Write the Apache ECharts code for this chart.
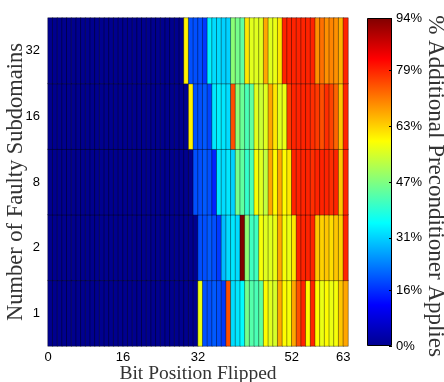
<!DOCTYPE html>
<html><head><meta charset="utf-8">
<script src="https://cdn.jsdelivr.net/npm/echarts@6/dist/echarts.min.js"></script>
<style>html,body{margin:0;padding:0;background:#fff}#c{width:444px;height:382px}</style>
</head><body><div id="c"></div>
<script>
// Categories
var bitPositions = ['0','1','2','3','4','5','6','7','8','9','10','11','12','13','14','15','16','17','18','19','20','21','22','23','24','25','26','27','28','29','30','31','32','33','34','35','36','37','38','39','40','41','42','43','44','45','46','47','48','49','50','51','52','53','54','55','56','57','58','59','60','61','62','63'];
var subdomains = ['1','2','8','16','32'];
// Tick labels
var xTicks = [0,16,32,52,63];
var cbTicks = [0,16,31,47,63,79,94];
var cbMax = 94;
// Series values (% additional preconditioner applies), bit 0..63
var row1 = [0,0,0,0,0,0,0,0,0,0, 0,0,0,0,0,0,0,0,0,0, 0,0,0,0,0,0,0,0,0,0, 0,0,
  57,19,19,20,19,17,75,32,33,35,46,43,42,44,59,56,55,67,59,58,67,75,79,59,79,59,57,59,57,58,64,67];
var row2 = [0,0,0,0,0,0,0,0,0,0, 0,0,0,0,0,0,0,0,0,0, 0,0,0,0,0,0,0,0,0,0, 0,0,
  19,19,20,19,17,29,32,33,32,94,48,41,41,58,56,56,57,67,58,57,61,79,79,79,79,64,63,64,62,64,63,79];
var row8 = [0,0,0,0,0,0,0,0,0,0, 0,0,0,0,0,0,0,0,0,0, 0,0,0,0,0,0,0,0,0,0, 0,
  19,19,20,19,15,33,32,33,31,46,44,40,42,58,56,53,67,59,67,59,61,79,79,79,79,78,79,79,79,78,79,64,79];
var row16 = [0,0,0,0,0,0,0,0,0,0, 0,0,0,0,0,0,0,0,0,0, 0,0,0,0,0,0,0,0,0,0,
  60,19,19,20,18,33,34,33,32,75,48,45,42,44,56,54,56,67,61,56,57,77,79,79,79,79,78,77,75,78,76,73,64,79];
var row32 = [0,0,0,0,0,0,0,0,0,0, 0,0,0,0,0,0,0,0,0,0, 0,0,0,0,0,0,0,0,0,
  60,19,19,19,17,34,32,32,31,31,48,46,44,61,56,56,56,67,56,57,61,79,79,79,79,79,79,79,69,72,69,70,69,66,79];

var rows = [row1,row2,row8,row16,row32];
var heat = [];
rows.forEach(function(r, yi){ r.forEach(function(v, xi){ heat.push([xi, yi, v]); }); });

var jet = ['#00008f','#0000ff','#0080ff','#00ffff','#80ff80','#ffff00','#ff8000','#ff0000','#800000'];
var stops = jet.map(function(c,i){ return {offset: i/(jet.length-1), color: c}; });

var serif = 'Liberation Serif';
var sans = 'Liberation Sans';
var chart = echarts.init(document.getElementById('c'));
chart.setOption({
  animation: false,
  grid: [
    {left: 48, top: 18, width: 300, height: 328, outerBoundsMode: 'none', containLabel: false},
    {left: 367, top: 18, width: 25, height: 328, outerBoundsMode: 'none', containLabel: false}
  ],
  xAxis: [
    {type: 'category', data: bitPositions, gridIndex: 0, axisLabel: {show: false}, axisTick: {show: false}, axisLine: {show: false}, splitLine: {show: false}},
    {type: 'value', gridIndex: 0, min: 0, max: 64, position: 'bottom',
     axisLine: {show: false}, axisTick: {show: false}, splitLine: {show: false},
     axisLabel: {customValues: xTicks, fontFamily: sans, fontSize: 13, color: '#000', margin: 5},
     name: 'Bit Position Flipped', nameLocation: 'middle', nameGap: 18, nameMoveOverlap: false,
     nameTextStyle: {fontFamily: serif, fontSize: 19.5, color: '#333'}},
    {type: 'category', data: ['cb'], gridIndex: 1, show: false}
  ],
  yAxis: [
    {type: 'category', data: subdomains, gridIndex: 0, axisTick: {show: false}, axisLine: {show: false}, splitLine: {show: false},
     axisLabel: {fontFamily: sans, fontSize: 13, color: '#000', margin: 8},
     name: 'Number of Faulty Subdomains', nameLocation: 'middle', nameGap: 20, nameMoveOverlap: false,
     nameTextStyle: {fontFamily: serif, fontSize: 22.5, color: '#333'}},
    {type: 'value', gridIndex: 1, min: 0, max: cbMax, position: 'right', z: 10,
     axisLine: {show: false}, splitLine: {show: false},
     axisTick: {show: true, inside: true, length: 3, customValues: cbTicks, lineStyle: {color: '#000'}},
     axisLabel: {customValues: cbTicks, formatter: '{value}%', fontFamily: sans, fontSize: 13, color: '#000', margin: 4},
     name: '% Additional Preconditioner Applies', nameLocation: 'middle', nameRotate: -90, nameGap: 32, nameMoveOverlap: false,
     nameTextStyle: {fontFamily: serif, fontSize: 23, color: '#333', padding: [0, 0, 0, 8]}}
  ],
  visualMap: {type: 'continuous', min: 0, max: cbMax, show: false, seriesIndex: 0, inRange: {color: jet}},
  series: [
    {type: 'heatmap', xAxisIndex: 0, yAxisIndex: 0, data: heat,
     itemStyle: {borderColor: 'rgba(0,0,0,0.75)', borderWidth: 0.5}},
    {type: 'bar', xAxisIndex: 2, yAxisIndex: 1, data: [cbMax], barWidth: '100%', z: 2,
     itemStyle: {borderColor: '#000', borderWidth: 1,
       color: new echarts.graphic.LinearGradient(0, 1, 0, 0, stops)}}
  ]
});
</script></body></html>
